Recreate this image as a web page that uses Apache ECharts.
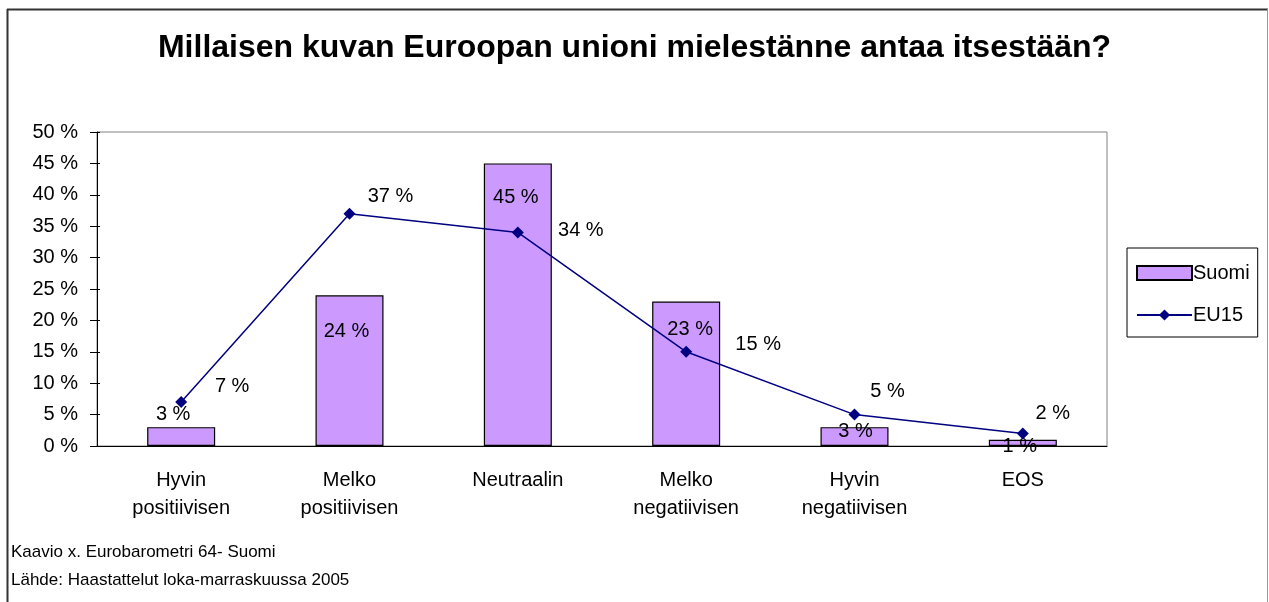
<!DOCTYPE html>
<html>
<head>
<meta charset="utf-8">
<title>Millaisen kuvan Euroopan unioni mielestänne antaa itsestään?</title>
<script src="https://cdn.jsdelivr.net/npm/echarts@6/dist/echarts.min.js"></script>
<style>
  html, body { margin: 0; padding: 0; background: #fff; }
  #chart { width: 1269px; height: 602px; }
</style>
</head>
<body>
<div id="chart"></div>
<script>
// data
var categories = ['Hyvin\npositiivisen', 'Melko\npositiivisen', 'Neutraalin', 'Melko\nnegatiivisen', 'Hyvin\nnegatiivisen', 'EOS']
var suomi = [3, 24, 45, 23, 3, 1]
var eu15 = [7, 37, 34, 15, 5, 2]
var yTicks = { min: 0, max: 50, interval: 5 }

// label placement (hand-moved in the original)
var barLabelPos = [[-8, -13], [-3, 36], [-2, 34], [4, 28], [1, 4], [-3, 7]]
var lineLabelPos = [[51, -16], [41, -17], [63, -2], [72, -7], [33, -23], [30, -20]]

var font = 'Liberation Sans, Arial, sans-serif'

var chart = echarts.init(document.getElementById('chart'))

var barData = suomi.map(function (v, i) {
  return {
    value: v,
    label: { position: ['50%', barLabelPos[i][1]], offset: [barLabelPos[i][0], 0] }
  }
})
var lineData = eu15.map(function (v, i) {
  return { value: v, label: { offset: lineLabelPos[i] } }
})

var option = {
  animation: false,
  backgroundColor: '#fff',
  title: {
    text: 'Millaisen kuvan Euroopan unioni mielestänne antaa itsestään?',
    left: 'center',
    top: 32,
    padding: 0,
    textStyle: { fontFamily: font, fontSize: 32, fontWeight: 'bold', color: '#000' }
  },
  legend: {
    orient: 'vertical',
    left: 1127,
    top: 248,
    padding: [15, 8, 12, 9],
    itemGap: 22,
    itemWidth: 55,
    itemHeight: 14,
    borderColor: '#000',
    borderWidth: 1,
    textStyle: { fontFamily: font, fontSize: 20, color: '#000', padding: [0, 0, 0, -4] },
    data: [
      { name: 'Suomi', icon: 'rect' },
      { name: 'EU15' }
    ]
  },
  grid: {
    left: 97,
    top: 132,
    right: 162,
    bottom: 156,
    show: true,
    borderColor: '#808080',
    borderWidth: 1
  },
  xAxis: [
    {
      type: 'category',
      data: categories,
      axisLine: { lineStyle: { color: '#000', width: 1 } },
      axisTick: { length: 6, lineStyle: { color: '#000' } },
      axisLabel: {
        margin: 20,
        lineHeight: 28,
        fontFamily: font,
        fontSize: 20,
        color: '#000'
      }
    },
    {
      type: 'category',
      data: categories,
      position: 'bottom',
      axisLine: { show: false },
      axisTick: { inside: true, length: 3, lineStyle: { color: '#000' } },
      axisLabel: { show: false }
    }
  ],
  yAxis: [
    {
      type: 'value',
      min: yTicks.min,
      max: yTicks.max,
      interval: yTicks.interval,
      splitLine: { show: false },
      axisLine: { show: true, lineStyle: { color: '#000', width: 1 } },
      axisTick: { show: true, length: 7, lineStyle: { color: '#000' } },
      axisLabel: {
        margin: 19,
        fontFamily: font,
        fontSize: 20,
        color: '#000',
        formatter: '{value} %'
      }
    },
    {
      type: 'value',
      position: 'left',
      min: yTicks.min,
      max: yTicks.max,
      interval: yTicks.interval,
      splitLine: { show: false },
      axisLine: { show: false },
      axisTick: { show: true, inside: true, length: 3, lineStyle: { color: '#000' } },
      axisLabel: { show: false }
    }
  ],
  series: [
    {
      name: 'Suomi',
      type: 'bar',
      barWidth: 68,
      data: barData,
      itemStyle: { color: '#CC99FF', borderColor: '#000', borderWidth: 1.2 },
      label: {
        show: true,
        align: 'center',
        verticalAlign: 'middle',
        formatter: '{c} %',
        fontFamily: font,
        fontSize: 20,
        color: '#000'
      }
    },
    {
      name: 'EU15',
      type: 'line',
      data: lineData,
      symbol: 'diamond',
      symbolSize: 12,
      lineStyle: { color: '#000080', width: 1.5 },
      itemStyle: { color: '#000080' },
      label: {
        show: true,
        position: 'inside',
        formatter: '{c} %',
        fontFamily: font,
        fontSize: 20,
        color: '#000'
      }
    }
  ],
  graphic: [
    { type: 'line', shape: { x1: 7, y1: 9.5, x2: 1268, y2: 9.5 }, style: { stroke: '#333', lineWidth: 2 } },
    { type: 'line', shape: { x1: 7.5, y1: 9, x2: 7.5, y2: 602 }, style: { stroke: '#333', lineWidth: 2 } },
    { type: 'line', shape: { x1: 1267.5, y1: 9, x2: 1267.5, y2: 602 }, style: { stroke: '#999', lineWidth: 1 } },
    {
      type: 'text', left: 11, top: 544,
      style: { text: 'Kaavio x. Eurobarometri 64- Suomi', font: '17px ' + font, fill: '#000' }
    },
    {
      type: 'text', left: 11, top: 572,
      style: { text: 'Lähde: Haastattelut loka-marraskuussa 2005', font: '17px ' + font, fill: '#000' }
    }
  ]
}

chart.setOption(option)
</script>
</body>
</html>
